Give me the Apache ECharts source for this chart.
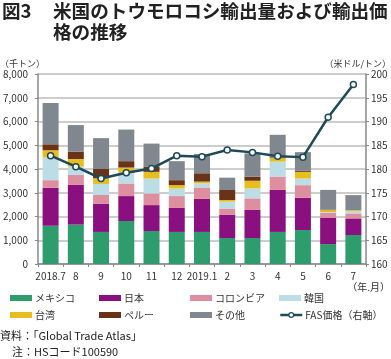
<!DOCTYPE html>
<html><head><meta charset="utf-8">
<script src="https://cdn.jsdelivr.net/npm/echarts@6/dist/echarts.min.js"></script>
<style>html,body{margin:0;padding:0;background:#fff}#c{width:391px;height:359px}</style>
</head><body><div id="c"></div>
<script>
const categories = ['2018.7','8','9','10','11','12','2019.1','2','3','4','5','6','7'];
const mexico   = [1610,1660,1350,1810,1390,1350,1350,1095,1095,1350,1430, 840,1220];
const japan    = [1600,1670,1190,1050,1090,1010,1390, 970,1180,1770,1360,1110, 700];
const colombia = [ 320, 420, 365, 530, 490, 500, 480, 270, 490, 560, 530, 210, 210];
const korea    = [ 950, 350, 465, 450, 630, 320, 180, 290, 420, 630, 280,  30, 100];
const taiwan   = [ 310, 320, 240, 220, 280, 140,  70,  70, 320, 150, 280,  80,  40];
const peru     = [ 250, 310, 390, 270, 210, 210, 350, 420, 170,  30,  40,  20,   0];
const other    = [1740,1120,1300,1330, 980, 800, 815, 520, 980, 950, 790, 830, 630];
const fasPrice = [182.8,180.5,178.0,179.2,180.1,182.8,182.6,184.0,183.5,182.7,182.5,190.9,197.8];
const leftTicks = [0,1000,2000,3000,4000,5000,6000,7000,8000];
const rightTicks = [160,165,170,175,180,185,190,195,200];

const names = ['メキシコ','日本','コロンビア','韓国','台湾','ペルー','その他','FAS価格（右軸）'];
const colors = ['#2e9c6c','#8a1080','#dd8fa0','#bcdce6','#e8bd1e','#6a3318','#80878e','#1e4a58'];
const barData = [mexico,japan,colombia,korea,taiwan,peru,other];

const FONT = '"Noto Sans CJK JP", "Noto Sans", sans-serif';
const chart = echarts.init(document.getElementById('c'));

const series = barData.map((d,i)=>({
  name: names[i], type:'bar', stack:'t', data:d, barWidth:16,
  itemStyle:{color:colors[i]}, yAxisIndex:0
}));
series.push({
  name: names[7], type:'line', yAxisIndex:1, data:fasPrice,
  symbol:'circle', symbolSize:6,
  lineStyle:{color:colors[7], width:2.5},
  itemStyle:{color:'#fff', borderColor:colors[7], borderWidth:1.5},
  z:10
});

const legX = [10, 99, 190, 279];
const legY = [293, 310];
const legends = names.map((n,i)=>({
  data:[i===7 ? {name:n} : {name:n, icon:'rect'}],
  left: legX[i%4], top: legY[Math.floor(i/4)],
  itemWidth: 22, itemHeight: 6, itemGap: 2,
  padding:0, selectedMode:false,
  textStyle:{fontSize:10, color:'#333', fontFamily:FONT, padding:[0,0,0,-2]}
}));
legends[7].itemStyle = {color:'#fff', borderColor:colors[7], borderWidth:1.2};
legends[7].lineStyle = {color:colors[7], width:2.5};

chart.setOption({
  animation:false,
  textStyle:{fontFamily:FONT},
  grid:{left:35, right:25, top:74, bottom:95},
  legend: legends,
  xAxis:{type:'category', data:categories, boundaryGap:true,
    axisLine:{lineStyle:{color:'#888', width:1.5}},
    axisTick:{show:true, alignWithLabel:false, length:3, lineStyle:{color:'#888'}},
    axisLabel:{color:'#333', fontSize:10, margin:7, interval:0}},
  yAxis:[
    {type:'value', min:leftTicks[0], max:leftTicks[leftTicks.length-1], interval:1000,
      axisLine:{show:true, lineStyle:{color:'#888', width:1.5}},
      axisTick:{show:true, length:3, lineStyle:{color:'#888'}},
      splitLine:{lineStyle:{color:'#bdbdbd', width:1.5}},
      axisLabel:{color:'#333', fontSize:10, margin:10, formatter:v=>v.toLocaleString('en-US')}},
    {type:'value', min:rightTicks[0], max:rightTicks[rightTicks.length-1], interval:5, position:'right',
      axisLine:{show:true, lineStyle:{color:'#888', width:1.5}},
      axisTick:{show:true, length:3, lineStyle:{color:'#888'}},
      splitLine:{show:false},
      axisLabel:{color:'#333', fontSize:10, margin:5}}
  ],
  series: series,
  graphic:[
    {type:'text', left:2, top:2, style:{text:'図3', font:'bold 18.6px '+FONT, fill:'#222'}},
    {type:'text', left:53, top:2, style:{text:'米国のトウモロコシ輸出量および輸出価', font:'bold 18.6px '+FONT, fill:'#222'}},
    {type:'text', left:53, top:23, style:{text:'格の推移', font:'bold 18.6px '+FONT, fill:'#222'}},
    {type:'text', left:0, top:59, style:{text:'（千トン）', font:'9px '+FONT, fill:'#333'}},
    {type:'text', right:0, top:59, style:{text:'（米ドル/トン）', font:'9px '+FONT, fill:'#333'}},
    {type:'text', right:1, top:282, style:{text:'（年.月）', font:'10px '+FONT, fill:'#333'}},
    {type:'text', left:0, top:330, style:{text:'資料：「Global Trade Atlas」', font:'11px '+FONT, fill:'#222'}},
    {type:'text', left:12, top:346, style:{text:'注：HSコード100590', font:'11px '+FONT, fill:'#222'}}
  ]
});
</script></body></html>
